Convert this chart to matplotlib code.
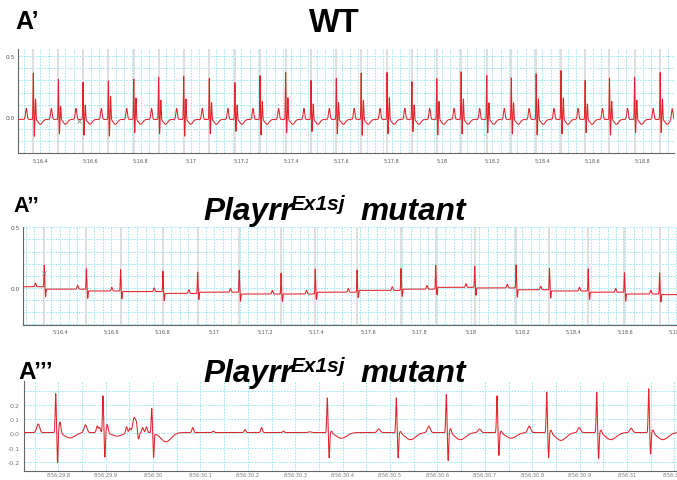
import numpy as np
import matplotlib.pyplot as plt
from matplotlib.ticker import MultipleLocator, FixedLocator, FuncFormatter, FormatStrFormatter

W, H = 677, 481

# WT recording, time in s (5:16.3 .. 5:18.9), amplitudes in mV
wt_beats = [316.372, 316.472, 316.570, 316.671, 316.772, 316.871, 316.971, 317.073,
            317.175, 317.275, 317.377, 317.478, 317.579, 317.678, 317.781, 317.880,
            317.979, 318.076, 318.178, 318.276, 318.375, 318.474, 318.570, 318.667,
            318.767, 318.869, 318.945]
wt_r = [0.36, 0.31, 0.285, 0.30, 0.31, 0.33, 0.34, 0.32, 0.285, 0.345, 0.37, 0.30, 0.32,
        0.36, 0.37, 0.29, 0.32, 0.37, 0.34, 0.32, 0.36, 0.38, 0.30, 0.32, 0.33, 0.37, 0.33]
wt_s = [-0.16, -0.14, -0.15, -0.16, -0.13, -0.14, -0.16, -0.14, -0.12, -0.15, -0.13, -0.12, -0.14,
        -0.15, -0.14, -0.12, -0.15, -0.14, -0.13, -0.14, -0.15, -0.14, -0.13, -0.15, -0.13, -0.13, -0.14]
wt_j = [0.15, 0.09, 0.10, 0.17, 0.16, 0.14, 0.15, 0.12, 0.10, 0.13, 0.16, 0.11, 0.12,
        0.14, 0.16, 0.10, 0.13, 0.15, 0.12, 0.12, 0.15, 0.16, 0.11, 0.13, 0.14, 0.15, 0.13]
wt_base = -0.02
wt_p = 0.07
wt_t = -0.06
wt_mark = (316.553, -0.03)

# Playrr mutant, same time base (5:16.25 .. 5:18.8)
mu_beats = [316.339, 316.503, 316.636, 316.801, 316.936, 317.098, 317.261, 317.394, 317.557,
            317.728, 317.863, 318.015, 318.176, 318.306, 318.457, 318.598, 318.735]
mu_r = [0.19, 0.16, 0.15, 0.14, 0.13, 0.145, 0.125, 0.155, 0.15,
        0.16, 0.19, 0.18, 0.19, 0.16, 0.16, 0.125, 0.125]
# baseline level before the first beat and after each beat
mu_levels = [0.01, -0.01, -0.025, -0.03, -0.045, -0.035, -0.05, -0.05, -0.035,
             -0.02, -0.01, 0.005, 0.0, -0.015, -0.025, -0.035, -0.05, -0.055]
mu_p = 0.03
mu_s = -0.06
mu_mark = (316.339, 0.125)

# second mutant, time in s after 8:56
m2_beats = [29.7945, 29.8943, 29.9971, 30.3676, 30.5132, 30.6187, 30.7257, 30.8306,
            30.9361, 31.0458, 31.152]
m2_r = [0.28, 0.264, 0.178, 0.25, 0.25, 0.275, 0.265, 0.29, 0.29, 0.315, 0.29]
m2_s = [-0.21, -0.17, -0.165, -0.17, -0.17, -0.19, -0.155, -0.17, -0.175, -0.145, -0.16]
m2_j = [0.085, 0.065, 0.0, 0.02, 0.02, 0.04, 0.02, 0.03, 0.03, 0.03, 0.03]
m2_t = [-0.033, -0.02, -0.06, -0.035, -0.045, -0.045, -0.035, -0.05, -0.045, -0.045, -0.045]
m2_p = [0.065, 0.06, 0.11, 0.01, 0.03, 0.05, 0.03, 0.05, 0.04, 0.035, 0.04]
m2_base = 0.005
# extra deflections in the irregular stretch and the pause
m2_extra_t = [29.882, 29.887, 29.944, 29.951, 29.965, 29.969, 29.978, 29.986,
              30.0836, 30.127, 30.194, 30.229, 30.275]
m2_extra_a = [0.045, 0.035, 0.045, 0.03, 0.05, -0.05, 0.035, 0.04,
              0.035, 0.01, 0.02, 0.035, 0.01]
m2_yticks = [-0.2, -0.1, 0.0, 0.1, 0.2]


def spike(t, t0, amp, w):
    return amp * np.exp(-0.5 * ((t - t0) / w) ** 2)


def mmss(v, pos=None):
    m = int(v // 60)
    s = round(v - 60 * m, 1)
    if abs(s - round(s)) < 1e-6:
        return f"{m}:{int(round(s)):02d}"
    return f"{m}:{s:04.1f}"


def hhmmss(v, pos=None):
    s = round(v, 1)
    if abs(s - round(s)) < 1e-6:
        return f"8:56:{int(round(s)):02d}"
    return f"8:56:{s:04.1f}"


def style(ax, col, xs, ys, xpad, ypad):
    for side in ('top', 'right'):
        ax.spines[side].set_visible(False)
    for side in ('left', 'bottom'):
        ax.spines[side].set_color('#666666')
        ax.spines[side].set_linewidth(0.8)
    ax.grid(which='both', color='#8ee6ef', ls=(0, (1.5, 1.5)), lw=0.7, zorder=0)
    ax.tick_params(axis='x', which='both', length=0, labelsize=xs, colors=col, pad=xpad)
    ax.tick_params(axis='y', which='both', length=0, labelsize=ys, colors=col, pad=ypad)
    ax.set_axisbelow(True)


fig = plt.figure(figsize=(W / 100, H / 100), dpi=100)
red = '#e3232b'

# ---- WT ----
ax1 = fig.add_axes([18 / W, 1 - 154 / H, 656 / W, 104 / H])
t = np.arange(316.30, 318.93, 0.0004)
y = np.full_like(t, wt_base)
for tb, r, s, j in zip(wt_beats, wt_r, wt_s, wt_j):
    y += spike(t, tb - 0.028, wt_p - wt_base, 0.003)
    y += spike(t, tb, r - wt_base, 0.0012)
    y += spike(t, tb + 0.004, s - wt_base, 0.0012)
    y += spike(t, tb + 0.009, j - wt_base, 0.0015)
    y += spike(t, tb + 0.028, wt_t - wt_base, 0.008)
for tb in wt_beats:
    ax1.axvline(tb, color='#dcdcdc', lw=1.3, zorder=1)
ax1.plot(t, y, color=red, lw=0.75, zorder=3)
ax1.plot(*wt_mark, marker='x', color='#888888', ms=3, mew=0.6, zorder=4)
ax1.set_xlim(316.311, 318.924)
ax1.set_ylim(-0.295, 0.557)
ax1.xaxis.set_major_locator(MultipleLocator(0.2))
ax1.xaxis.set_minor_locator(MultipleLocator(0.2 / 6))
ax1.yaxis.set_major_locator(MultipleLocator(0.5))
ax1.yaxis.set_minor_locator(MultipleLocator(0.1))
ax1.xaxis.set_major_formatter(FuncFormatter(mmss))
ax1.yaxis.set_major_formatter(FormatStrFormatter('%.1f'))
style(ax1, '#555555', 3.5, 4.2, 3.6, 2.2)

# ---- mutant ----
ax2 = fig.add_axes([23 / W, 1 - 326 / H, 654 / W, 98 / H])
t = np.arange(316.24, 318.81, 0.0004)
lv = np.array(mu_levels)
y = lv[np.searchsorted(np.array(mu_beats) + 0.004, t)]
for i, (tb, r) in enumerate(zip(mu_beats, mu_r)):
    y += spike(t, tb - 0.034, mu_p, 0.0025)
    y += spike(t, tb, r - lv[i], 0.0012)
    y += spike(t, tb + 0.005, mu_s, 0.0012)
for tb in mu_beats:
    ax2.axvline(tb, color='#dcdcdc', lw=1.3, zorder=1)
ax2.plot(t, y, color=red, lw=0.75, zorder=3)
ax2.plot(*mu_mark, marker='x', color='#888888', ms=3.5, mew=0.6, zorder=4)
ax2.set_xlim(316.256, 318.8027)
ax2.set_ylim(-0.305, 0.502)
ax2.xaxis.set_major_locator(MultipleLocator(0.2))
ax2.xaxis.set_minor_locator(MultipleLocator(0.2 / 6))
ax2.yaxis.set_major_locator(MultipleLocator(0.5))
ax2.yaxis.set_minor_locator(MultipleLocator(0.1))
ax2.xaxis.set_major_formatter(FuncFormatter(mmss))
ax2.yaxis.set_major_formatter(FormatStrFormatter('%.1f'))
style(ax2, '#555555', 3.5, 4.2, 2.9, 2.2)

# ---- second mutant ----
ax3 = fig.add_axes([24 / W, 1 - 472 / H, 653 / W, 90 / H])
t = np.arange(29.72, 31.11, 0.0003)
y = np.full_like(t, m2_base)
for tb, r, s, j, tw, p in zip(m2_beats, m2_r, m2_s, m2_j, m2_t, m2_p):
    y += spike(t, tb - 0.037, p - m2_base, 0.003)
    y += spike(t, tb, r - m2_base, 0.0011)
    y += spike(t, tb + 0.004, s - m2_base, 0.0011)
    y += spike(t, tb + 0.009, j - m2_base, 0.002)
    y += spike(t, tb + 0.03, tw - m2_base, 0.011)
for te, a in zip(m2_extra_t, m2_extra_a):
    y += spike(t, te, a, 0.0018)
ax3.plot(t, y, color=red, lw=0.75, zorder=3)
ax3.set_xlim(29.7276, 31.1055)
ax3.set_ylim(-0.265, 0.367)
ax3.xaxis.set_major_locator(MultipleLocator(0.1))
ax3.xaxis.set_minor_locator(MultipleLocator(0.05))
ax3.yaxis.set_major_locator(FixedLocator(m2_yticks))
ax3.yaxis.set_minor_locator(MultipleLocator(0.1))
ax3.xaxis.set_major_formatter(FuncFormatter(hhmmss))
ax3.yaxis.set_major_formatter(FormatStrFormatter('%.1f'))
style(ax3, '#777777', 3.6, 4.6, 1.0, 2.9)


def ftext(x, y, s, **kw):
    return fig.text(x / W, 1 - y / H, s, va='baseline', family='Liberation Sans',
                    weight='bold', **kw)


ftext(15, 29, 'A\u2019', size=18)
ftext(334, 31.7, 'WT', size=23.5, ha='center')

ftext(13, 212, 'A\u2019\u2019', size=15.5)
ftext(18, 379.3, 'A\u2019\u2019\u2019', size=17.5)

# genotype titles: name, superscript allele, "mutant"
for base in (220, 381.7):
    ftext(203.5, base, 'Playrr', size=22.8, style='italic')
    ftext(291, base - 10, 'Ex1sj', size=15, style='italic')
    ftext(360, base, 'mutant', size=22.8, style='italic')

fig.savefig('out.png', dpi=100, facecolor='white')
